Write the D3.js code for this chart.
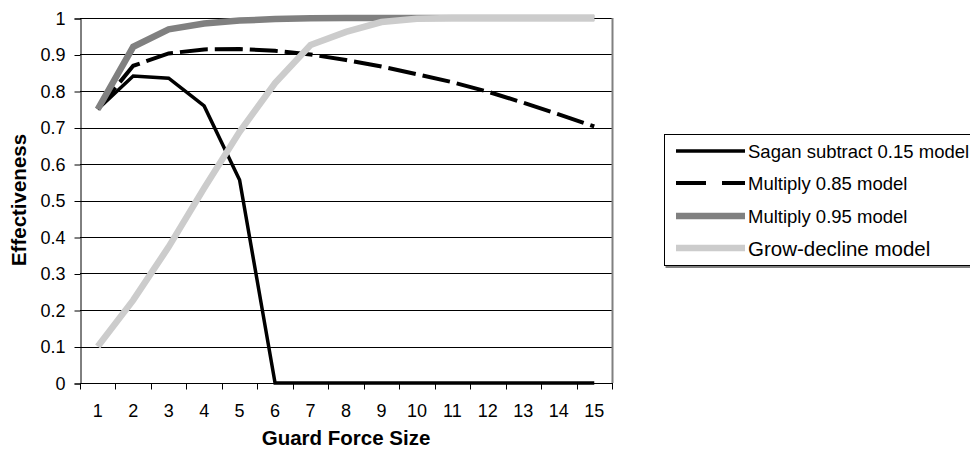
<!DOCTYPE html>
<html>
<head>
<meta charset="utf-8">
<script src="https://cdn.jsdelivr.net/npm/d3@7"></script>
<style>
  body { margin: 0; background: #fff; }
  svg { font-family: "Liberation Sans", Arial, sans-serif; }
</style>
</head>
<body>
<div id="chart"></div>
<script>
// data
var sizes = [1, 2, 3, 4, 5, 6, 7, 8, 9, 10, 11, 12, 13, 14, 15];
var sagan = [0.75, 0.841, 0.835, 0.759, 0.556, 0, 0, 0, 0, 0, 0, 0, 0, 0, 0];
var mult85 = [0.75, 0.869, 0.903, 0.914, 0.915, 0.91, 0.9, 0.885, 0.867, 0.846, 0.824, 0.798, 0.768, 0.736, 0.703];
var mult95 = [0.75, 0.921, 0.969, 0.985, 0.993, 0.997, 0.999, 1, 1, 1, 1, 1, 1, 1, 1];
var grow = [0.1, 0.227, 0.373, 0.534, 0.688, 0.822, 0.926, 0.962, 0.989, 0.998, 1, 1, 1, 1, 1];
var yTicks = [0, 0.1, 0.2, 0.3, 0.4, 0.5, 0.6, 0.7, 0.8, 0.9, 1];
var seriesNames = ["Sagan subtract 0.15 model", "Multiply 0.85 model", "Multiply 0.95 model", "Grow-decline model"];

var width = 970, height = 452;
var plotLeft = 80, plotRight = 612, plotTop = 18, plotBottom = 383;

var svg = d3.select("#chart").append("svg")
  .attr("width", width)
  .attr("height", height);

var x = d3.scalePoint().domain(sizes).range([plotLeft, plotRight]).padding(0.5);
var y = d3.scaleLinear().domain([0, 1]).range([plotBottom, plotTop]);
var step = x.step();

// gridlines
svg.append("g")
  .selectAll("line")
  .data(yTicks.slice(1))
  .enter()
  .append("line")
  .attr("x1", plotLeft)
  .attr("x2", plotRight)
  .attr("y1", function (d) { return Math.round(y(d)) + 0.5; })
  .attr("y2", function (d) { return Math.round(y(d)) + 0.5; })
  .attr("stroke", "#000")
  .attr("stroke-width", 1);

// right border of plot area
svg.append("line")
  .attr("x1", plotRight + 0.5).attr("x2", plotRight + 0.5)
  .attr("y1", plotTop).attr("y2", plotBottom)
  .attr("stroke", "#808080")
  .attr("stroke-width", 2);

// y axis
var yAxis = svg.append("g")
  .attr("transform", "translate(" + (plotLeft + 0.5) + ",0.5)")
  .call(d3.axisLeft(y).tickValues(yTicks).tickSize(6).tickPadding(9)
    .tickFormat(function (d) { return d === 0 || d === 1 ? String(d) : d.toFixed(1); }));

yAxis.attr("font-family", null);
yAxis.select(".domain").attr("stroke", "#000");
yAxis.selectAll(".tick line").attr("stroke", "#000");
yAxis.selectAll(".tick text").attr("font-size", 18).attr("fill", "#000");

// x axis, ticks at category boundaries
var xAxis = svg.append("g")
  .attr("transform", "translate(0," + (plotBottom + 0.5) + ")");
xAxis.append("line")
  .attr("x1", plotLeft).attr("x2", plotRight + 1)
  .attr("stroke", "#000");
xAxis.selectAll("line.tick")
  .data(d3.range(sizes.length + 1))
  .enter()
  .append("line")
  .attr("class", "tick")
  .attr("x1", function (i) { return Math.round(plotLeft + i * step) + 0.5; })
  .attr("x2", function (i) { return Math.round(plotLeft + i * step) + 0.5; })
  .attr("y1", 0)
  .attr("y2", 6)
  .attr("stroke", "#000");
xAxis.selectAll("text")
  .data(sizes)
  .enter()
  .append("text")
  .attr("x", function (d) { return x(d); })
  .attr("y", 33)
  .attr("text-anchor", "middle")
  .attr("font-size", 18)
  .text(function (d) { return d; });

// series lines
var line = d3.line()
  .x(function (d, i) { return x(sizes[i]); })
  .y(function (d) { return y(d); });

var styles = [
  { data: sagan, color: "#000", w: 3.5, dash: null, legendDash: null },
  { data: mult85, color: "#000", w: 4, dash: "28,7", legendDash: "30,16" },
  { data: mult95, color: "#808080", w: 6.5, dash: null, legendDash: null },
  { data: grow, color: "#cccccc", w: 6.5, dash: null, legendDash: null }
];

svg.append("g")
  .selectAll("path")
  .data(styles)
  .enter()
  .append("path")
  .attr("d", function (s) { return line(s.data); })
  .attr("fill", "none")
  .attr("stroke", function (s) { return s.color; })
  .attr("stroke-width", function (s) { return s.w; })
  .attr("stroke-dasharray", function (s) { return s.dash; })
  .attr("stroke-linejoin", "miter");

// axis titles
svg.append("text")
  .attr("transform", "translate(26,200) rotate(-90)")
  .attr("text-anchor", "middle")
  .attr("font-weight", "bold")
  .attr("font-size", 20.5)
  .text("Effectiveness");

svg.append("text")
  .attr("x", (plotLeft + plotRight) / 2)
  .attr("y", 445)
  .attr("text-anchor", "middle")
  .attr("font-weight", "bold")
  .attr("font-size", 20.5)
  .text("Guard Force Size");

// legend
var legend = svg.append("g");
legend.append("rect")
  .attr("x", 665.5).attr("y", 136)
  .attr("width", 400).attr("height", 132)
  .attr("fill", "#808080");
legend.append("rect")
  .attr("x", 664.5).attr("y", 134.5)
  .attr("width", 400).attr("height", 131)
  .attr("fill", "#fff")
  .attr("stroke", "#000");

var ly = [151, 183, 216, 248];
var item = legend.selectAll("g.item")
  .data(styles)
  .enter()
  .append("g")
  .attr("class", "item");
item.append("line")
  .attr("x1", 676).attr("x2", 745)
  .attr("y1", function (s, i) { return ly[i]; })
  .attr("y2", function (s, i) { return ly[i]; })
  .attr("stroke", function (s) { return s.color; })
  .attr("stroke-width", function (s) { return s.w; })
  .attr("stroke-dasharray", function (s) { return s.legendDash; });
item.append("text")
  .attr("x", 748)
  .attr("y", function (s, i) { return ly[i] + (i === 3 ? 7.5 : 6.5); })
  .attr("font-size", function (s, i) { return i === 3 ? 20.5 : 18.5; })
  .text(function (s, i) { return seriesNames[i]; });
</script>
</body>
</html>
